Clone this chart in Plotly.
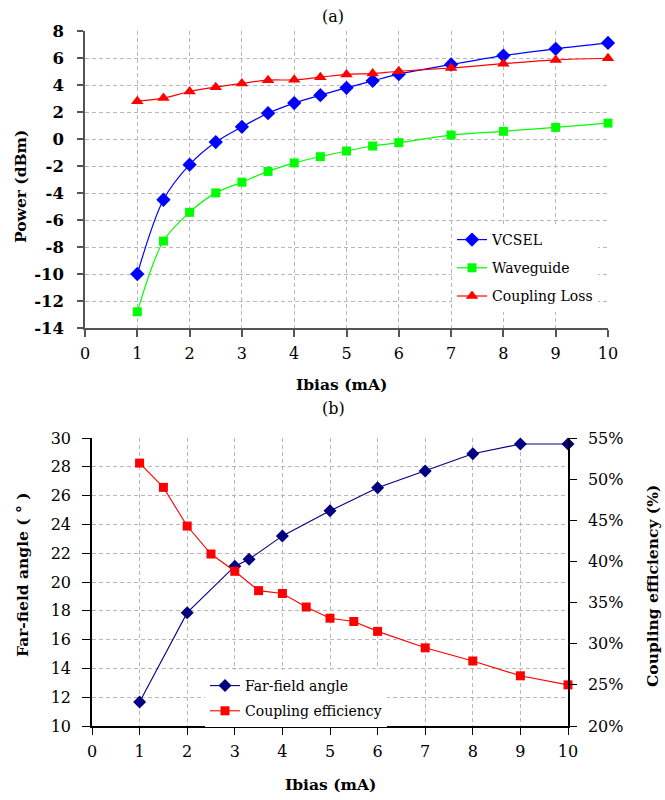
import plotly.graph_objects as go

# ---------------- data ----------------
ibias_a = [1, 1.5, 2, 2.5, 3, 3.5, 4, 4.5, 5, 5.5, 6, 7, 8, 9, 10]
vcsel = [-10.0, -4.5, -1.9, -0.23, 0.9, 1.91, 2.66, 3.25, 3.79, 4.31, 4.8, 5.52, 6.18, 6.68, 7.12]
waveguide = [-12.8, -7.56, -5.43, -3.99, -3.2, -2.4, -1.77, -1.31, -0.89, -0.52, -0.27, 0.29, 0.57, 0.86, 1.18]
coupling_loss = [2.8, 3.03, 3.52, 3.84, 4.12, 4.36, 4.38, 4.58, 4.78, 4.85, 5.02, 5.26, 5.58, 5.86, 5.98]

ibias_ff = [1, 2, 3, 3.3, 4, 5, 6, 7, 8, 9, 10]
far_field = [11.67, 17.87, 21.1, 21.58, 23.2, 24.94, 26.54, 27.7, 28.91, 29.58, 29.58]

ibias_ce = [1, 1.5, 2, 2.5, 3, 3.5, 4, 4.5, 5, 5.5, 6, 7, 8, 9, 10]
coupling_eff = [0.5195, 0.49, 0.443, 0.409, 0.388, 0.3645, 0.361, 0.3446, 0.331, 0.327, 0.315, 0.295, 0.279, 0.261, 0.250]

x_ticks = [0, 1, 2, 3, 4, 5, 6, 7, 8, 9, 10]
x_ticklabels = ["0", "1", "2", "3", "4", "5", "6", "7", "8", "9", "10"]
power_ticks = [8, 6, 4, 2, 0, -2, -4, -6, -8, -10, -12, -14]
power_ticklabels = ["8", "6", "4", "2", "0", "-2", "-4", "-6", "-8", "-10", "-12", "-14"]
angle_ticks = [10, 12, 14, 16, 18, 20, 22, 24, 26, 28, 30]
angle_ticklabels = ["10", "12", "14", "16", "18", "20", "22", "24", "26", "28", "30"]
eff_ticks = [0.20, 0.25, 0.30, 0.35, 0.40, 0.45, 0.50, 0.55]
eff_ticklabels = ["20%", "25%", "30%", "35%", "40%", "45%", "50%", "55%"]

# ---------------- layout helpers ----------------
W, H = 665, 800
FONT = "DejaVu Serif"


def px_x(p):
    return p / W


def px_y(p):
    return 1 - p / H


GRID = dict(showgrid=True, gridcolor="#b8b8b8", gridwidth=1, griddash="4px,3px")

fig = go.Figure()

# ---------------- panel (a) ----------------
fig.add_trace(go.Scatter(
    x=ibias_a, y=vcsel, name="VCSEL", mode="lines+markers",
    line=dict(color="#0000ff", width=1.2, shape="spline", smoothing=0.9),
    marker=dict(symbol="diamond", size=11, color="#0000ff"),
    xaxis="x", yaxis="y", legend="legend", legendgroup="a1", cliponaxis=False))
fig.add_trace(go.Scatter(
    x=ibias_a, y=waveguide, name="Waveguide", mode="lines+markers",
    line=dict(color="#00ff00", width=1.2, shape="spline", smoothing=0.9),
    marker=dict(symbol="square", size=9, color="#00ff00"),
    xaxis="x", yaxis="y", legend="legend", legendgroup="a2", cliponaxis=False))
fig.add_trace(go.Scatter(
    x=ibias_a, y=coupling_loss, name="Coupling Loss", mode="lines+markers",
    line=dict(color="#ff0000", width=1.2, shape="spline", smoothing=0.9),
    marker=dict(symbol="triangle-up", size=11, color="#ff0000"),
    xaxis="x", yaxis="y", legend="legend", legendgroup="a3", cliponaxis=False))

# ---------------- panel (b) ----------------
fig.add_trace(go.Scatter(
    x=ibias_ff, y=far_field, name="Far-field angle", mode="lines+markers",
    line=dict(color="#000080", width=1.1),
    marker=dict(symbol="diamond", size=10, color="#000080"),
    xaxis="x2", yaxis="y2", legend="legend2", legendgroup="b1", cliponaxis=False))
fig.add_trace(go.Scatter(
    x=ibias_ce, y=coupling_eff, name="Coupling efficiency", mode="lines+markers",
    line=dict(color="#ff0000", width=1.1),
    marker=dict(symbol="square", size=9, color="#ff0000"),
    xaxis="x2", yaxis="y3", legend="legend2", legendgroup="b2", cliponaxis=False))

tick_font = dict(family=FONT, size=16, color="black")

fig.update_layout(
    template="none",
    width=W, height=H,
    margin=dict(l=0, r=0, t=0, b=0, pad=0, autoexpand=False),
    paper_bgcolor="white", plot_bgcolor="white",
    font=dict(family=FONT, size=15.5, color="black"),
    xaxis=dict(
        domain=[px_x(85), px_x(608)], range=[0, 10], anchor="y", automargin=False,
        tickvals=x_ticks, ticktext=x_ticklabels, tickfont=tick_font,
        ticks="outside", ticklen=7, tickcolor="#555555", tickwidth=1.5,
        showline=True, linecolor="#555555", linewidth=2, zeroline=False,
        ticklabelstandoff=3, **GRID),
    yaxis=dict(
        domain=[px_y(328), px_y(31)], range=[-14, 8], anchor="x", automargin=False,
        tickvals=power_ticks, ticktext=power_ticklabels,
        tickfont=dict(family=FONT, size=16.5, color="black", weight="bold"),
        ticks="outside", ticklen=6, tickcolor="#555555", tickwidth=1.5,
        showline=True, linecolor="#555555", linewidth=1.5, zeroline=False,
        ticklabelstandoff=10, **GRID),
    xaxis2=dict(
        domain=[px_x(92), px_x(568)], range=[0, 10], anchor="y2", automargin=False,
        tickvals=x_ticks, ticktext=x_ticklabels, tickfont=tick_font,
        ticks="outside", ticklen=7, tickcolor="black", tickwidth=1.2,
        showline=True, linecolor="black", linewidth=1.5, zeroline=False,
        ticklabelstandoff=3, **GRID),
    yaxis2=dict(
        domain=[px_y(726), px_y(438)], range=[10, 30], anchor="x2", automargin=False,
        tickvals=angle_ticks, ticktext=angle_ticklabels, tickfont=tick_font,
        ticks="outside", ticklen=8, tickcolor="black", tickwidth=1.2,
        showline=True, linecolor="black", linewidth=1.5, zeroline=False,
        ticklabelstandoff=8, **GRID),
    yaxis3=dict(
        range=[0.20, 0.55], overlaying="y2", side="right", anchor="x2", automargin=False,
        tickvals=eff_ticks, ticktext=eff_ticklabels, tickfont=tick_font,
        ticks="outside", ticklen=7, tickcolor="black", tickwidth=1.2,
        showline=True, linecolor="black", linewidth=1.5, zeroline=False,
        showgrid=False, ticklabelstandoff=8),
    legend=dict(
        x=px_x(452), y=px_y(224), xanchor="left", yanchor="top",
        bgcolor="white", borderwidth=0, tracegroupgap=7,
        font=dict(family=FONT, size=14, color="black")),
    legend2=dict(
        x=px_x(205), y=px_y(670), xanchor="left", yanchor="top",
        bgcolor="white", borderwidth=0, tracegroupgap=4,
        font=dict(family=FONT, size=14, color="black")),
    showlegend=True,
)

annotations = [
    dict(text="(a)", x=px_x(333), y=px_y(17), font=dict(size=16)),
    dict(text="(b)", x=px_x(333), y=px_y(408), font=dict(size=16)),
    dict(text="<b>Ibias (mA)</b>", x=px_x(341), y=px_y(384), font=dict(size=15.5)),
    dict(text="<b>Ibias (mA)</b>", x=px_x(330), y=px_y(784), font=dict(size=15.5)),
    dict(text="<b>Power (dBm)</b>", x=px_x(20), y=px_y(187), textangle=-90, font=dict(size=15.5)),
    dict(text="<b>Far-field angle ( ° )</b>", x=px_x(22), y=px_y(575), textangle=-90, font=dict(size=15.5)),
    dict(text="<b>Coupling efficiency (%)</b>", x=px_x(652), y=px_y(586), textangle=-90, font=dict(size=15.5)),
]
for a in annotations:
    a.update(xref="paper", yref="paper", showarrow=False, xanchor="center", yanchor="middle")
fig.update_layout(annotations=annotations)

fig.write_html("out.html")
